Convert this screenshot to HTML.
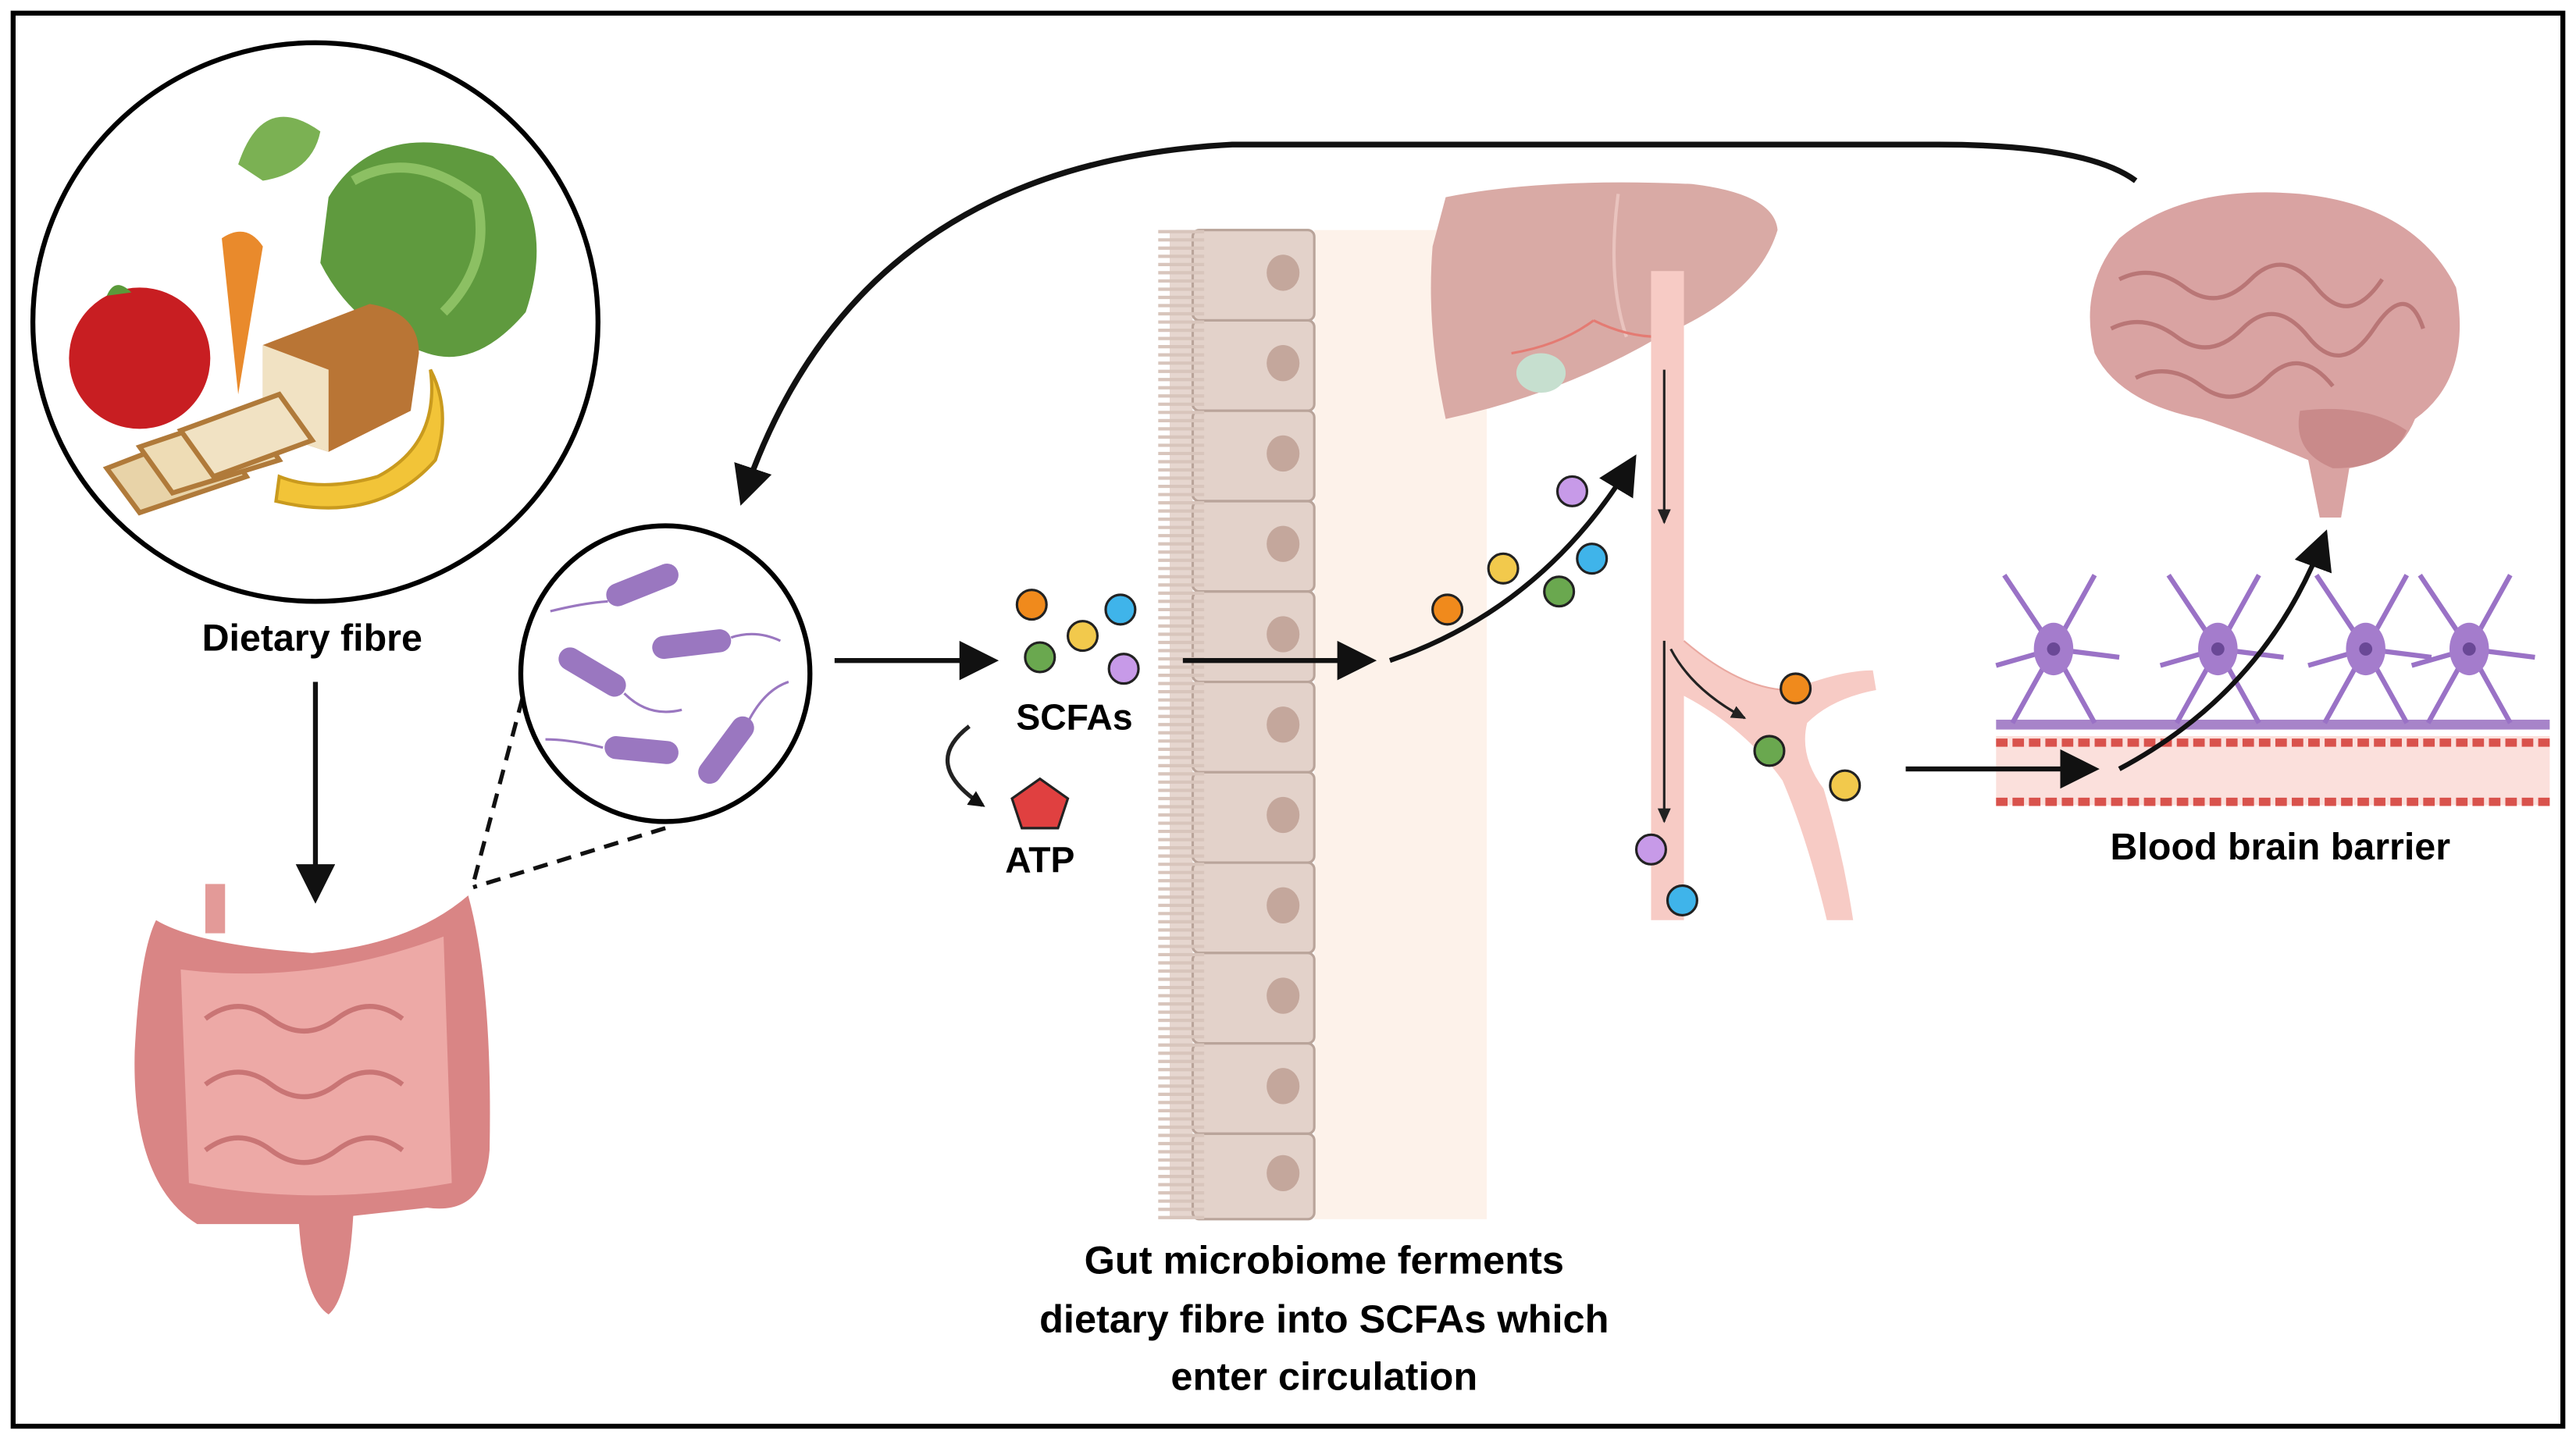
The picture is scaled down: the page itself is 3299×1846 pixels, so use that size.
<!DOCTYPE html>
<html><head><meta charset="utf-8"><style>html,body{margin:0;padding:0;background:#fff}svg{display:block}</style></head>
<body>
<svg width="3299" height="1846" viewBox="0 0 1568 877" preserveAspectRatio="none" xmlns="http://www.w3.org/2000/svg" font-family="Liberation Sans, sans-serif">
<defs>
<marker id="ah" markerWidth="10" markerHeight="10" refX="8" refY="5" orient="auto" markerUnits="userSpaceOnUse"><path d="M0,0 L10,5 L0,10 z" fill="#111"/></marker>
<marker id="ahb" markerWidth="24" markerHeight="24" refX="20" refY="12" orient="auto" markerUnits="userSpaceOnUse"><path d="M0,0 L24,12 L0,24 z" fill="#111"/></marker>
<marker id="ahs" markerWidth="10" markerHeight="10" refX="8" refY="5" orient="auto" markerUnits="userSpaceOnUse"><path d="M0,1 L9,5 L0,9 z" fill="#222"/></marker>
</defs>
<rect x="8" y="8" width="1552" height="860" fill="#fff" stroke="#000" stroke-width="3"/>

<!-- food circle -->
<ellipse cx="192" cy="196" rx="172" ry="170" fill="#fff" stroke="#000" stroke-width="3"/>
<path d="M200,120 Q230,70 300,95 Q340,130 320,190 Q290,225 260,215 Q215,200 195,160 Z" fill="#5f9a3e"/>
<path d="M215,110 Q250,90 290,120 Q300,160 270,190" fill="none" stroke="#8cc063" stroke-width="6"/>
<path d="M145,100 Q160,55 195,80 Q190,105 160,110 Z" fill="#7bb153"/>
<path d="M135,145 Q150,135 160,150 L145,240 Z" fill="#e98a2c"/>
<circle cx="85" cy="218" r="43" fill="#c81e22"/>
<path d="M65,180 Q70,168 80,178" fill="#5a9a3a"/>
<path d="M160,210 L225,185 Q255,190 255,215 L250,250 L200,275 L160,262 Z" fill="#b97535"/>
<path d="M160,210 L200,225 L200,275 L160,262 Z" fill="#f1e2c3"/>
<path d="M65,285 L130,260 L150,290 L85,312 Z" fill="#e8d3a8" stroke="#b07a3a" stroke-width="3"/>
<path d="M85,272 L150,250 L170,280 L105,300 Z" fill="#eedcb5" stroke="#b07a3a" stroke-width="3"/>
<path d="M110,262 L170,240 L190,268 L130,290 Z" fill="#f1e2c3" stroke="#b07a3a" stroke-width="3"/>
<path d="M168,305 Q230,320 265,280 Q275,250 262,225 Q268,270 230,290 Q195,300 170,290 Z" fill="#f2c438" stroke="#c99a1e" stroke-width="2"/>
<text x="190" y="396" font-size="23" font-weight="bold" text-anchor="middle">Dietary fibre</text>
<line x1="192" y1="415" x2="192" y2="546" stroke="#111" stroke-width="3" marker-end="url(#ahb)"/>

<!-- intestine -->
<path d="M95,560 Q120,575 190,580 Q250,575 285,545 Q300,600 298,700 Q295,740 260,735 L215,740 Q212,790 200,800 Q185,790 182,745 L120,745 Q80,720 82,640 Q85,580 95,560 Z" fill="#d98585"/>
<path d="M110,590 Q190,600 270,570 L275,720 Q190,735 115,720 Z" fill="#eda9a6"/>
<path d="M125,620 q20,-15 40,0 t40,0 t40,0 M125,660 q20,-15 40,0 t40,0 t40,0 M125,700 q20,-15 40,0 t40,0 t40,0" fill="none" stroke="#c97575" stroke-width="3"/>
<rect x="125" y="538" width="12" height="30" fill="#e39a98"/>
<line x1="318" y1="425" x2="288" y2="538" stroke="#111" stroke-width="2.5" stroke-dasharray="9,6"/>
<line x1="405" y1="504" x2="288" y2="540" stroke="#111" stroke-width="2.5" stroke-dasharray="9,6"/>

<!-- bacteria circle -->
<ellipse cx="405" cy="410" rx="88" ry="90" fill="#fff" stroke="#000" stroke-width="3"/>
<g stroke="#9a77c0" stroke-width="14" stroke-linecap="round">
<line x1="376" y1="362" x2="406" y2="350"/>
<line x1="404" y1="394" x2="438" y2="390"/>
<line x1="347" y1="401" x2="374" y2="417"/>
<line x1="375" y1="455" x2="406" y2="458"/>
<line x1="432" y1="470" x2="452" y2="443"/>
</g>
<g stroke="#9a77c0" stroke-width="1.5" fill="none">
<path d="M335,372 q20,-5 35,-6"/><path d="M445,388 q15,-5 30,2"/><path d="M380,422 q15,15 35,10"/><path d="M332,450 q15,0 35,5"/><path d="M455,440 q10,-20 25,-25"/>
</g>
<line x1="508" y1="402" x2="604" y2="402" stroke="#111" stroke-width="3" marker-end="url(#ahb)"/>

<!-- SCFAs -->
<g stroke="#222" stroke-width="1.5">
<circle cx="628" cy="368" r="9" fill="#f08a1c"/>
<circle cx="682" cy="371" r="9" fill="#3fb4ea"/>
<circle cx="659" cy="387" r="9" fill="#f2c94c"/>
<circle cx="633" cy="400" r="9" fill="#6aa84f"/>
<circle cx="684" cy="407" r="9" fill="#c79ae8"/>
</g>
<text x="654" y="444" font-size="22" font-weight="bold" text-anchor="middle">SCFAs</text>
<path d="M590,442 Q560,465 598,490" fill="none" stroke="#222" stroke-width="2.5" marker-end="url(#ah)"/>
<polygon points="633,474 650,486 644,504 622,504 616,486" fill="#e04040" stroke="#222" stroke-width="1.5"/>
<text x="633" y="531" font-size="22" font-weight="bold" text-anchor="middle">ATP</text>

<!-- epithelium -->
<rect x="800" y="140" width="105" height="602" fill="#fdf2ea"/>
<g>
<rect x="712" y="140" width="14" height="602" fill="#e6d6cf"/>
<path d="M712,145 h12 M712,152 h12 M712,159 h12" stroke="#bca59b" stroke-width="0"/>
</g>
<g fill="#e3d2ca" stroke="#b9a49a" stroke-width="1.5">
<rect x="726" y="140" width="74" height="55" rx="4"/><rect x="726" y="195" width="74" height="55" rx="4"/>
<rect x="726" y="250" width="74" height="55" rx="4"/><rect x="726" y="305" width="74" height="55" rx="4"/>
<rect x="726" y="360" width="74" height="55" rx="4"/><rect x="726" y="415" width="74" height="55" rx="4"/>
<rect x="726" y="470" width="74" height="55" rx="4"/><rect x="726" y="525" width="74" height="55" rx="4"/>
<rect x="726" y="580" width="74" height="55" rx="4"/><rect x="726" y="635" width="74" height="55" rx="4"/>
<rect x="726" y="690" width="74" height="52" rx="4"/>
</g>
<g fill="#c4a79c">
<ellipse cx="781" cy="166" rx="10" ry="11"/><ellipse cx="781" cy="221" rx="10" ry="11"/><ellipse cx="781" cy="276" rx="10" ry="11"/>
<ellipse cx="781" cy="331" rx="10" ry="11"/><ellipse cx="781" cy="386" rx="10" ry="11"/><ellipse cx="781" cy="441" rx="10" ry="11"/>
<ellipse cx="781" cy="496" rx="10" ry="11"/><ellipse cx="781" cy="551" rx="10" ry="11"/><ellipse cx="781" cy="606" rx="10" ry="11"/>
<ellipse cx="781" cy="661" rx="10" ry="11"/><ellipse cx="781" cy="714" rx="10" ry="11"/>
</g>
<path d="M712,140 v602" stroke="#d8c5bc" stroke-width="28" stroke-dasharray="2,3" fill="none" transform="translate(7,0)"/>
<line x1="720" y1="402" x2="834" y2="402" stroke="#111" stroke-width="3" marker-end="url(#ahb)"/>

<!-- liver -->
<path d="M880,120 Q940,108 1030,112 Q1080,118 1082,140 Q1070,180 1010,205 Q950,240 880,255 Q868,200 872,150 Z" fill="#d9aaa5"/>
<path d="M985,118 Q978,170 990,205" stroke="#e9c3be" stroke-width="2" fill="none"/>
<ellipse cx="938" cy="227" rx="15" ry="12" fill="#c6dfcf"/>
<path d="M920,215 q30,-5 50,-20 M970,195 q20,10 40,10" stroke="#e47b73" stroke-width="1.5" fill="none"/>

<!-- vessel -->
<path d="M1005,165 L1025,165 L1025,560 L1005,560 Z" fill="#f7cbc5"/>
<path d="M1018,385 Q1060,420 1090,420 Q1120,408 1140,408 L1142,420 Q1115,425 1100,440 Q1095,460 1110,480 Q1122,520 1128,560 L1112,560 Q1100,510 1085,475 Q1060,440 1018,420 Z" fill="#f7cbc5"/>
<path d="M1025,390 Q1060,420 1090,420" fill="none" stroke="#e9a8a0" stroke-width="1"/>
<line x1="1013" y1="225" x2="1013" y2="318" stroke="#222" stroke-width="1.5" marker-end="url(#ahs)"/>
<path d="M1013,390 L1013,500" stroke="#222" stroke-width="1.5" marker-end="url(#ahs)"/>
<path d="M1017,395 Q1030,420 1062,437" fill="none" stroke="#222" stroke-width="1.5" marker-end="url(#ahs)"/>

<path d="M846,402 Q940,370 994,280" fill="none" stroke="#111" stroke-width="3" marker-end="url(#ahb)"/>
<g stroke="#222" stroke-width="1.5">
<circle cx="881" cy="371" r="9" fill="#f08a1c"/>
<circle cx="915" cy="346" r="9" fill="#f2c94c"/>
<circle cx="949" cy="360" r="9" fill="#6aa84f"/>
<circle cx="969" cy="340" r="9" fill="#3fb4ea"/>
<circle cx="957" cy="299" r="9" fill="#c79ae8"/>
<circle cx="1093" cy="419" r="9" fill="#f08a1c"/>
<circle cx="1077" cy="457" r="9" fill="#6aa84f"/>
<circle cx="1123" cy="478" r="9" fill="#f2c94c"/>
<circle cx="1005" cy="517" r="9" fill="#c79ae8"/>
<circle cx="1024" cy="548" r="9" fill="#3fb4ea"/>
</g>

<!-- BBB -->
<rect x="1215" y="448" width="337" height="42" fill="#fbe0dc"/>
<path d="M1215,452 h337" stroke="#d9524c" stroke-width="5" stroke-dasharray="7,3"/>
<path d="M1215,488 h337" stroke="#d9524c" stroke-width="5" stroke-dasharray="7,3"/>
<rect x="1215" y="438" width="337" height="6" fill="#a784c9"/>
<g stroke="#9a72c6" stroke-width="3" fill="none">
<path d="M1250,395 l-30,-45 M1250,395 l25,-45 M1250,395 l-25,45 M1250,395 l25,45 M1250,395 l-35,10 M1250,395 l40,5"/>
<path d="M1350,395 l-30,-45 M1350,395 l25,-45 M1350,395 l-25,45 M1350,395 l25,45 M1350,395 l-35,10 M1350,395 l40,5"/>
<path d="M1440,395 l-30,-45 M1440,395 l25,-45 M1440,395 l-25,45 M1440,395 l25,45 M1440,395 l-35,10 M1440,395 l40,5"/>
<path d="M1503,395 l-30,-45 M1503,395 l25,-45 M1503,395 l-25,45 M1503,395 l25,45 M1503,395 l-35,10 M1503,395 l40,5"/>
</g>
<g fill="#a47ccc"><ellipse cx="1250" cy="395" rx="12" ry="16"/><ellipse cx="1350" cy="395" rx="12" ry="16"/><ellipse cx="1440" cy="395" rx="12" ry="16"/><ellipse cx="1503" cy="395" rx="12" ry="16"/></g>
<g fill="#6a4896"><circle cx="1250" cy="395" r="4"/><circle cx="1350" cy="395" r="4"/><circle cx="1440" cy="395" r="4"/><circle cx="1503" cy="395" r="4"/></g>
<line x1="1160" y1="468" x2="1274" y2="468" stroke="#111" stroke-width="3" marker-end="url(#ahb)"/>
<path d="M1290,468 Q1380,420 1415,326" fill="none" stroke="#111" stroke-width="3" marker-end="url(#ahb)"/>
<text x="1388" y="523" font-size="23" font-weight="bold" text-anchor="middle">Blood brain barrier</text>

<!-- brain -->
<path d="M1290,145 Q1330,112 1400,118 Q1470,125 1495,175 Q1505,230 1470,255 Q1460,280 1430,285 L1425,315 L1412,315 L1405,280 Q1370,265 1340,255 Q1290,245 1275,215 Q1265,175 1290,145 Z" fill="#d9a3a2"/>
<path d="M1400,250 Q1440,245 1465,262 Q1455,285 1420,285 Q1395,275 1400,250 Z" fill="#c98a8a"/>
<path d="M1290,170 q20,-10 40,5 t40,-5 t40,5 t40,-5 M1285,200 q20,-10 40,5 t40,-5 t40,5 t40,-5 t30,0 M1300,230 q20,-10 40,5 t40,-5 t40,5" fill="none" stroke="#b97676" stroke-width="2.5"/>

<!-- big return arrow -->
<path d="M1300,110 Q1270,88 1180,88 L750,88 Q520,100 452,304" fill="none" stroke="#111" stroke-width="3.5" marker-end="url(#ahb)"/>

<g font-size="24" font-weight="bold" text-anchor="middle">
<text x="806" y="775">Gut microbiome ferments</text>
<text x="806" y="811">dietary fibre into SCFAs which</text>
<text x="806" y="846">enter circulation</text>
</g>
</svg>
</body></html>
